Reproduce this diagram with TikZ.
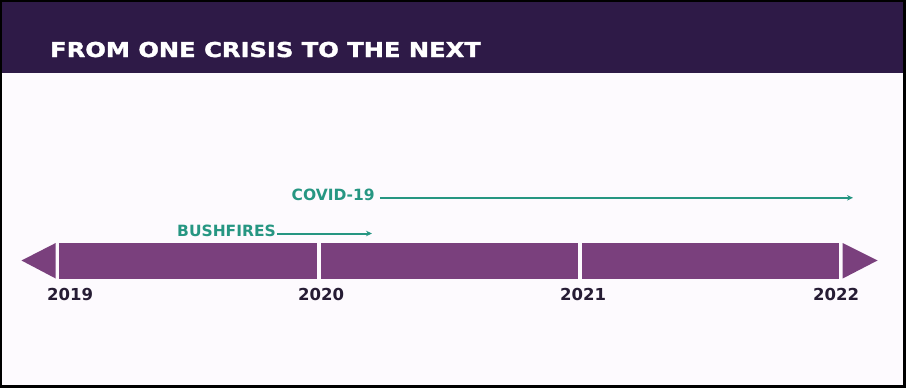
\documentclass[tikz,border=0pt]{standalone}
\usepackage{fontspec}
\usepackage{graphicx}
\setmainfont{DejaVu Sans}
\newfontfamily\titlefont{DejaVu Sans}[BoldFeatures={FakeBold=1.6}]
\usetikzlibrary{arrows.meta}
\definecolor{header}{RGB}{46,26,71}
\definecolor{bar}{RGB}{122,64,125}
\definecolor{teal}{RGB}{38,150,130}
\definecolor{yeartext}{RGB}{38,28,52}
\definecolor{pagebg}{RGB}{253,250,254}
\tikzset{
  seg/.style={fill=bar, draw=none},
  yearlbl/.style={anchor=base west, inner sep=0pt, font=\bfseries\fontsize{16.5}{16.5}\selectfont, text=yeartext},
  eventlbl/.style={anchor=base west, inner sep=0pt, font=\bfseries\fontsize{15.5}{15.5}\selectfont, text=teal},
  eventarrow/.style={draw=teal, line width=2pt, -{Stealth[length=6pt,width=5.5pt]}}
}
\begin{document}
\begin{tikzpicture}[x=1pt,y=-1pt]
\useasboundingbox (0,0) rectangle (906,388);
% frame
\fill[black] (0,0) rectangle (906,388);
\fill[pagebg] (2,2) rectangle (903,385);
% header
\fill[header] (2,2) rectangle (903,72.5);
\node[anchor=base west, inner sep=0pt, text=white, font=\titlefont\bfseries\fontsize{20.5}{20.5}\selectfont] (title) at (50,57) {\scalebox{1.18}[1]{FROM ONE CRISIS TO THE NEXT}};
% timeline
\fill[seg] (21.5,260.5) -- (55.7,243) -- (55.7,278.5) -- cycle;
\fill[seg] (59.3,243) rectangle (316.7,278.5);
\fill[seg] (320.7,243) rectangle (578.3,278.5);
\fill[seg] (581.7,243) rectangle (839.3,278.5);
\fill[seg] (842.7,243) -- (877.5,260.5) -- (842.7,278.5) -- cycle;
% years
\node[yearlbl] (y2019) at (47,300.5) {2019};
\node[yearlbl] (y2020) at (298,300.5) {2020};
\node[yearlbl] (y2021) at (560,300.5) {2021};
\node[yearlbl] (y2022) at (813,300.5) {2022};
% events
\node[eventlbl] (bush) at (177,236.6) {BUSHFIRES};
\coordinate (bushend) at (372,233.5);
\draw[eventarrow] (bush.east |- bushend) ++(1.5,0) -- (bushend);
\node[eventlbl] (covid) at (291.5,200.6) {COVID-19};
\coordinate (covidend) at (853,197.8);
\draw[eventarrow] (covid.east |- covidend) ++(5,0) -- (covidend);
\end{tikzpicture}
\end{document}
